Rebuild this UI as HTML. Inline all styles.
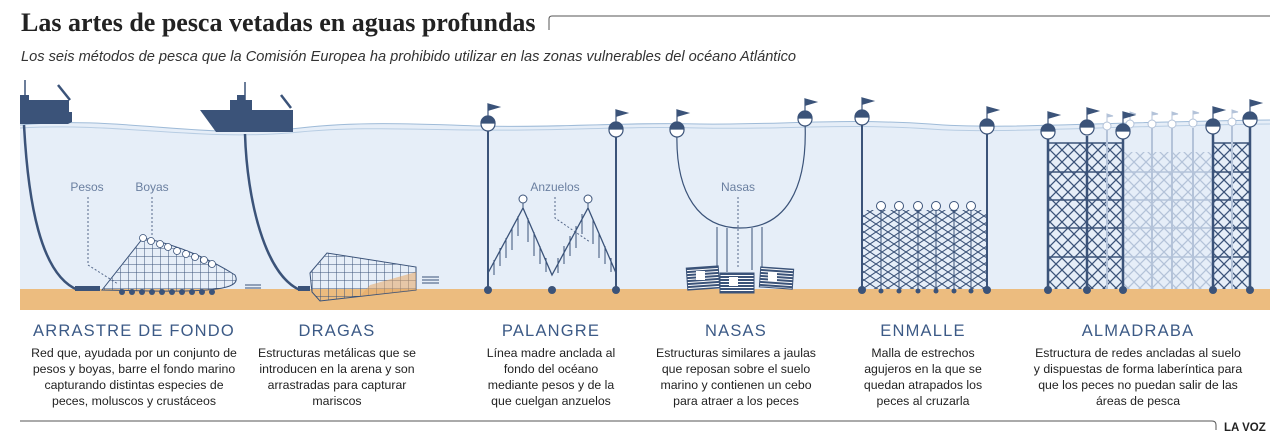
<!DOCTYPE html>
<html><head><meta charset="utf-8"><style>
html,body{margin:0;padding:0;background:#fff;}
body{width:1278px;height:442px;overflow:hidden;}
svg{display:block}
.t{font-family:"Liberation Serif",serif;font-weight:bold;font-size:26px;fill:#222}
.s{font-family:"Liberation Sans",sans-serif;font-style:italic;font-size:14.6px;fill:#333}
.h{font-family:"Liberation Sans",sans-serif;font-size:16.5px;fill:#3c5a86;letter-spacing:1.2px;text-anchor:middle}
.d{font-family:"Liberation Sans",sans-serif;font-size:12.3px;fill:#222;text-anchor:middle}
.l{font-family:"Liberation Sans",sans-serif;font-size:12px;fill:#6a7fa0;text-anchor:middle}
</style></head><body>
<svg width="1278" height="442" viewBox="0 0 1278 442" xmlns="http://www.w3.org/2000/svg">
<defs>
<pattern id="x" width="12" height="12" patternUnits="userSpaceOnUse"><path d="M0 0L12 12M12 0L0 12" stroke="#3b5379" stroke-width="1.3"/></pattern>
<pattern id="xl" width="12" height="12" patternUnits="userSpaceOnUse"><path d="M0 0L12 12M12 0L0 12" stroke="#b4c3d9" stroke-width="1.3"/></pattern>
<pattern id="g" width="8" height="8" patternUnits="userSpaceOnUse"><path d="M0 0H8M0 0V8" stroke="#3b5379" stroke-width="1"/></pattern>
<pattern id="e" width="12" height="8" patternUnits="userSpaceOnUse"><path d="M0 0L12 8M12 0L0 8" stroke="#3b5379" stroke-width="1.1"/></pattern>
<pattern id="b" width="4" height="3" patternUnits="userSpaceOnUse"><rect width="4" height="3" fill="#fff"/><rect width="4" height="2" fill="#3b5379"/></pattern>
<g id="f" stroke="#3b5379" stroke-width="1.2"><circle r="7" fill="#fff"/><path d="M-7 -1A7 7 0 0 1 7 -1Z" fill="#3b5379"/><line x1="0" y1="-7" x2="0" y2="-20"/><path d="M0 -20L11 -17L1 -14Z" fill="#3b5379"/></g>
<g id="fs" stroke="#b4c3d9" stroke-width="1"><circle r="4" fill="#fff"/><line x1="0" y1="-4" x2="0" y2="-12"/><path d="M0 -12L6 -10L0 -9Z" fill="#b4c3d9"/></g>
</defs>
<text x="21" y="31" class="t">Las artes de pesca vetadas en aguas profundas</text>
<path d="M549 30V19Q549 16 552 16H1270" fill="none" stroke="#555" stroke-width="1"/>
<text x="21" y="61" class="s">Los seis métodos de pesca que la Comisión Europea ha prohibido utilizar en las zonas vulnerables del océano Atlántico</text>
<!-- water -->
<path d="M20 125 C120 115 200 140 300 128 C360 121 420 124 480 126 C560 128 620 122 700 124 C780 125 840 118 930 124 C1000 130 1100 122 1270 120 V290 H20Z" fill="#e6eef8"/>
<path d="M20 125 C120 115 200 140 300 128 C360 121 420 124 480 126 C560 128 620 122 700 124 C780 125 840 118 930 124 C1000 130 1100 122 1270 120" fill="none" stroke="#9fbbd8" stroke-width="1"/>
<path d="M20 128 C120 122 200 142 300 132 C360 126 420 130 480 130 C560 131 620 126 700 128 C780 130 840 123 930 129 C1000 134 1100 126 1270 124" fill="none" stroke="#b8cde3" stroke-width="1"/>
<rect x="20" y="289" width="1250" height="21" fill="#ecbc7f"/>
<!-- ships -->
<g fill="#3b5379">
<path d="M20 112H72V122L68 124H20Z"/><rect x="20" y="95" width="9" height="18"/><rect x="29" y="100" width="40" height="12"/>
<line x1="25" y1="80" x2="25" y2="96" stroke="#3b5379" stroke-width="1.5"/>
<line x1="58" y1="85" x2="70" y2="100" stroke="#3b5379" stroke-width="2.5"/>
<path d="M200 110H293V132H216Z"/><rect x="230" y="100" width="22" height="11"/><rect x="237" y="95" width="8" height="6"/>
<line x1="245" y1="82" x2="245" y2="100" stroke="#3b5379" stroke-width="1.5"/>
<line x1="281" y1="95" x2="291" y2="108" stroke="#3b5379" stroke-width="2.5"/>
</g>
<g fill="none" stroke="#3b5379">
<path d="M24 125 C28 200 40 275 78 290" stroke-width="2.5"/>
<path d="M245 134 C247 200 265 275 300 290" stroke-width="2.5"/>
</g>
<rect x="75" y="286" width="25" height="5" fill="#3b5379"/><rect x="298" y="286" width="12" height="5" fill="#3b5379"/>
<!-- trawl -->
<path d="M102 290 L143 238 C180 245 215 262 235 275 C242 288 220 292 150 291Z" fill="url(#g)" stroke="#3b5379" stroke-width="1"/>
<g fill="#fff" stroke="#3b5379" stroke-width="0.8">
<circle cx="143" cy="238" r="3.5"/><circle cx="151" cy="241" r="3.5"/><circle cx="160" cy="244" r="3.5"/><circle cx="168" cy="247" r="3.5"/><circle cx="177" cy="251" r="3.5"/><circle cx="186" cy="254" r="3.5"/><circle cx="195" cy="257" r="3.5"/><circle cx="204" cy="260" r="3.5"/><circle cx="212" cy="264" r="3.5"/></g>
<g fill="#3b5379"><circle cx="122" cy="292" r="3"/><circle cx="132" cy="292" r="3"/><circle cx="142" cy="292" r="3"/><circle cx="152" cy="292" r="3"/><circle cx="162" cy="292" r="3"/><circle cx="172" cy="292" r="3"/><circle cx="182" cy="292" r="3"/><circle cx="192" cy="292" r="3"/><circle cx="202" cy="292" r="3"/><circle cx="212" cy="292" r="3"/></g>
<path d="M245 285H261M245 288H261" stroke="#3b5379"/>
<text x="87" y="191" class="l">Pesos</text><text x="152" y="191" class="l">Boyas</text>
<path d="M88 197V265L118 284M152 197V235" stroke="#55688a" stroke-dasharray="2 2" fill="none"/>
<!-- dragas -->
<path d="M310 273 L327 253 L416 267 V290 L320 301 L312 292Z" fill="url(#g)" stroke="#3b5379" stroke-width="1"/>
<path d="M370 285 L416 272 V290 L360 296Z" fill="#e5a865" opacity="0.55"/>
<path d="M422 277H439M422 280H439M422 283H439" stroke="#3b5379"/>
<!-- palangre -->
<g stroke="#3b5379" fill="none">
<line x1="488" y1="128" x2="488" y2="289" stroke-width="2"/><line x1="616" y1="135" x2="616" y2="289" stroke-width="2"/>
<path d="M488 273 L523 208 L552 275 L588 208 L616 273" stroke-width="1.3"/>
<line x1="523" y1="203" x2="523" y2="208"/><line x1="588" y1="203" x2="588" y2="208"/>
<path d="M494 260v15M500 248v18M506 238v20M512 228v22M518 216v20M528 218v24M534 232v24M540 246v18M546 258v14M558 258v15M564 246v18M570 236v20M576 226v22M582 214v20M593 220v24M599 234v24M605 246v18M611 258v14"/>
</g>
<g fill="#fff" stroke="#3b5379"><circle cx="523" cy="199" r="4"/><circle cx="588" cy="199" r="4"/></g>
<text x="555" y="191" class="l">Anzuelos</text>
<path d="M555 197V218L590 242" stroke="#55688a" stroke-dasharray="2 2" fill="none"/>
<!-- nasas -->
<path d="M677 132 C675 195 700 228 740 228 C785 228 808 190 805 122" fill="none" stroke="#3b5379" stroke-width="1.2"/>
<path d="M717 227V268M727 228V272M752 228V270M762 227V268" stroke="#3b5379" fill="none"/>
<g stroke="#3b5379"><rect x="687" y="267" width="32" height="22" fill="url(#b)" transform="rotate(-4 703 278)"/><rect x="720" y="273" width="34" height="20" fill="url(#b)"/><rect x="760" y="268" width="33" height="20" fill="url(#b)" transform="rotate(4 776 278)"/></g>
<g fill="#fff"><rect x="696" y="271" width="9" height="9"/><rect x="729" y="277" width="9" height="9"/><rect x="768" y="272" width="9" height="9"/></g>
<text x="738" y="191" class="l">Nasas</text>
<path d="M738 197V268" stroke="#55688a" stroke-dasharray="2 2"/>
<!-- enmalle -->
<rect x="862" y="210" width="125" height="79" fill="url(#e)"/>
<g stroke="#3b5379"><line x1="862" y1="120" x2="862" y2="289" stroke-width="2"/><line x1="987" y1="130" x2="987" y2="289" stroke-width="2"/>
<path d="M881 210V289M899 210V289M918 210V289M936 210V289M954 210V289M971 210V289" stroke-width="1"/></g>
<g fill="#fff" stroke="#3b5379"><circle cx="881" cy="206" r="4.5"/><circle cx="899" cy="206" r="4.5"/><circle cx="918" cy="206" r="4.5"/><circle cx="936" cy="206" r="4.5"/><circle cx="954" cy="206" r="4.5"/><circle cx="971" cy="206" r="4.5"/></g>
<g fill="#3b5379"><circle cx="881" cy="291" r="2.5"/><circle cx="899" cy="291" r="2.5"/><circle cx="918" cy="291" r="2.5"/><circle cx="936" cy="291" r="2.5"/><circle cx="954" cy="291" r="2.5"/><circle cx="971" cy="291" r="2.5"/></g>
<!-- almadraba -->
<rect x="1123" y="152" width="90" height="137" fill="url(#xl)"/>
<rect x="1048" y="143" width="75" height="146" fill="url(#x)"/>
<rect x="1213" y="143" width="37" height="146" fill="url(#x)"/>
<g stroke="#3b5379" stroke-width="1.5"><path d="M1048 143H1123M1048 172H1123M1048 200H1123M1048 228H1123M1048 257H1123M1213 143H1250M1213 172H1250M1213 200H1250M1213 228H1250M1213 257H1250"/></g>
<g stroke="#b4c3d9" stroke-width="1.5"><path d="M1123 172H1213M1123 200H1213M1123 228H1213M1123 257H1213"/></g>
<g stroke="#b4c3d9" stroke-width="2"><path d="M1107 128V289M1152 128V289M1172 128V289M1193 128V289M1232 125V289"/></g>
<g stroke="#3b5379" stroke-width="2.5"><path d="M1048 136V289M1087 136V289M1123 136V289M1213 133V289M1250 126V289"/></g>
<use href="#fs" x="1107" y="126"/><use href="#fs" x="1130" y="124"/><use href="#fs" x="1152" y="124"/><use href="#fs" x="1172" y="124"/><use href="#fs" x="1193" y="123"/><use href="#fs" x="1232" y="122"/>
<!-- floats -->
<use href="#f" x="488" y="124"/><use href="#f" x="616" y="130"/>
<use href="#f" x="677" y="130"/><use href="#f" x="805" y="119"/>
<use href="#f" x="862" y="118"/><use href="#f" x="987" y="127"/>
<use href="#f" x="1048" y="132"/><use href="#f" x="1087" y="128"/><use href="#f" x="1123" y="132"/><use href="#f" x="1213" y="127"/><use href="#f" x="1250" y="120"/>
<g fill="#3b5379"><circle cx="488" cy="290" r="4"/><circle cx="552" cy="290" r="4"/><circle cx="616" cy="290" r="4"/><circle cx="862" cy="290" r="4"/><circle cx="987" cy="290" r="4"/><circle cx="1048" cy="290" r="4"/><circle cx="1087" cy="290" r="4"/><circle cx="1123" cy="290" r="4"/><circle cx="1213" cy="290" r="4"/><circle cx="1250" cy="290" r="4"/></g>
<!-- labels -->
<text x="134" y="336" class="h">ARRASTRE DE FONDO</text>
<text x="337" y="336" class="h">DRAGAS</text>
<text x="551" y="336" class="h">PALANGRE</text>
<text x="736" y="336" class="h">NASAS</text>
<text x="923" y="336" class="h">ENMALLE</text>
<text x="1138" y="336" class="h">ALMADRABA</text>
<g class="d">
<text x="134" y="357">Red que, ayudada por un conjunto de</text><text x="134" y="373">pesos y boyas, barre el fondo marino</text><text x="134" y="389">capturando distintas especies de</text><text x="134" y="405">peces, moluscos y crustáceos</text>
<text x="337" y="357">Estructuras metálicas que se</text><text x="337" y="373">introducen en la arena y son</text><text x="337" y="389">arrastradas para capturar</text><text x="337" y="405">mariscos</text>
<text x="551" y="357">Línea madre anclada al</text><text x="551" y="373">fondo del océano</text><text x="551" y="389">mediante pesos y de la</text><text x="551" y="405">que cuelgan anzuelos</text>
<text x="736" y="357">Estructuras similares a jaulas</text><text x="736" y="373">que reposan sobre el suelo</text><text x="736" y="389">marino y contienen un cebo</text><text x="736" y="405">para atraer a los peces</text>
<text x="923" y="357">Malla de estrechos</text><text x="923" y="373">agujeros en la que se</text><text x="923" y="389">quedan atrapados los</text><text x="923" y="405">peces al cruzarla</text>
<text x="1138" y="357">Estructura de redes ancladas al suelo</text><text x="1138" y="373">y dispuestas de forma laberíntica para</text><text x="1138" y="389">que los peces no puedan salir de las</text><text x="1138" y="405">áreas de pesca</text>
</g>
<path d="M20 421H1212Q1216 421 1216 425V430" fill="none" stroke="#555" stroke-width="1"/>
<text x="1224" y="431" style="font-family:'Liberation Sans',sans-serif;font-weight:bold;font-size:11.5px;fill:#222">LA VOZ</text>
</svg>
</body></html>
